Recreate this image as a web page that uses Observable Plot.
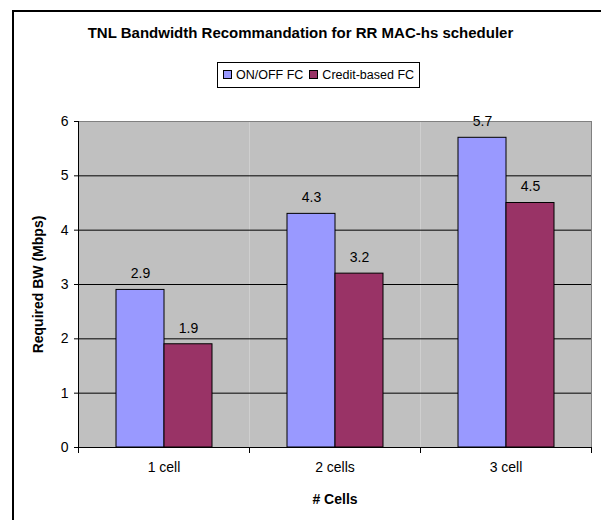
<!DOCTYPE html>
<html>
<head>
<meta charset="utf-8">
<script src="https://cdn.jsdelivr.net/npm/d3@7"></script>
<script src="https://cdn.jsdelivr.net/npm/@observablehq/plot@0.6"></script>
<style>
  html, body { margin: 0; padding: 0; background: #fff; overflow: hidden; }
  #wrap { position: relative; width: 601px; height: 520px; overflow: hidden; font-family: Arial, "Liberation Sans", sans-serif; }
  #border { position: absolute; left: 12px; top: 10px; width: 640px; height: 560px; border: 2px solid #000; box-sizing: border-box; }
  #title { position: absolute; left: 0px; width: 601px; top: 24px; text-align: center; font-weight: bold; font-size: 15px; color: #000; }
  #legend { position: absolute; top: 62px; left: 217px; height: 26px; box-sizing: border-box; border: 1px solid #000; background: #fff; padding: 0 5px; font-size: 12.5px; white-space: nowrap; display: flex; align-items: center; gap: 6px; }
  #legend .sw { display: inline-block; width: 7px; height: 7px; border: 1px solid #000; margin-right: 4px; vertical-align: middle; position: relative; top: -1px; }
  #chart { position: absolute; left: 0; top: 100px; }
  #chart svg [aria-label="y-axis label"], #chart svg [aria-label="fx-axis label"] { font-weight: bold; }
</style>
</head>
<body>
<div id="wrap">
  <div id="border"></div>
  <div id="title"></div>
  <div id="legend"></div>
  <div id="chart"></div>
</div>
<script>
const titleText = "TNL Bandwidth Recommandation for RR MAC-hs scheduler";
const categories = ["1 cell", "2 cells", "3 cell"];
const seriesNames = ["ON/OFF FC", "Credit-based FC"];
const onOffValues = [2.9, 4.3, 5.7];
const creditValues = [1.9, 3.2, 4.5];
const yTicks = [0, 1, 2, 3, 4, 5, 6];
const seriesColors = ["#9999FF", "#993366"];
const yLabel = "Required BW (Mbps)";
const xLabel = "# Cells";

const data = categories.flatMap((c, i) => [
  {cat: c, series: seriesNames[0], value: onOffValues[i]},
  {cat: c, series: seriesNames[1], value: creditValues[i]}
]);

document.getElementById("title").textContent = titleText;
const legend = document.getElementById("legend");
seriesNames.forEach((s, i) => {
  const item = document.createElement("span");
  const sw = document.createElement("span");
  sw.className = "sw";
  sw.style.background = seriesColors[i];
  item.appendChild(sw);
  item.appendChild(document.createTextNode(s));
  legend.appendChild(item);
});

const innerH = 420 - 21 - 73;

const chart = Plot.plot({
  width: 601,
  height: 420,
  marginTop: 21,
  marginBottom: 73,
  marginLeft: 77,
  marginRight: 9,
  style: {fontFamily: "Arial, 'Liberation Sans', sans-serif", fontSize: "14px", background: "transparent", color: "#000", overflow: "visible"},
  fx: {domain: categories, padding: 0, label: xLabel, labelArrow: false, tickSize: 0, tickPadding: 15, labelAnchor: "center", labelOffset: 56},
  x: {domain: seriesNames, paddingInner: 0, paddingOuter: 0.777, axis: null},
  y: {domain: [0, 6], ticks: yTicks, tickFormat: d => String(d), tickSize: 4, tickPadding: 6, label: yLabel, labelArrow: false, labelAnchor: "center", labelOffset: 45},
  color: {domain: seriesNames, range: seriesColors},
  marks: [
    Plot.frame({fill: "#c0c0c0"}),
    Plot.ruleY(yTicks.slice(1, -1), {stroke: "#000", strokeWidth: 1}),
    Plot.ruleY([yTicks[yTicks.length - 1]], {stroke: "#808080", strokeWidth: 1}),
    Plot.frame({fx: () => categories[categories.length - 1], anchor: "right", stroke: "#808080"}),
    Plot.barY(data, {fx: "cat", x: "series", y: "value", fill: "series", stroke: "#000", strokeWidth: 1}),
    Plot.text(data, {fx: "cat", x: "series", y: "value", text: d => d.value.toFixed(1), dy: -16, fill: "#000"}),
    Plot.ruleY([0], {stroke: "#000", strokeWidth: 1}),
    Plot.frame({fx: () => categories[0], anchor: "left", stroke: "#000"}),
    Plot.frame({anchor: "left", stroke: "#000", insetTop: innerH, insetBottom: -5}),
    Plot.frame({anchor: "right", stroke: "#000", insetTop: innerH, insetBottom: -5})
  ]
});
document.getElementById("chart").appendChild(chart);
</script>
</body>
</html>
